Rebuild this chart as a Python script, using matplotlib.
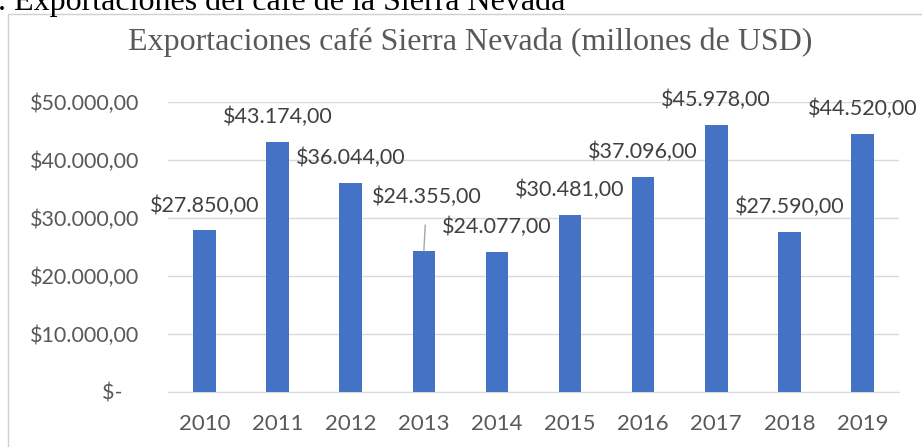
import matplotlib
matplotlib.use("Agg")
import matplotlib.pyplot as plt
from matplotlib.patches import Rectangle

years = ["2010", "2011", "2012", "2013", "2014", "2015", "2016", "2017", "2018", "2019"]
values = [27850, 43174, 36044, 24355, 24077, 30481, 37096, 45978, 27590, 44520]
yticks = [0, 10000, 20000, 30000, 40000, 50000]
ytick_labels = ["$-   ", "$10.000,00", "$20.000,00", "$30.000,00", "$40.000,00", "$50.000,00"]
title = "Exportaciones café Sierra Nevada (millones de USD)"
caption = ". Exportaciones del café de la Sierra Nevada"

def fmt(v):
    s = f"{v:,.2f}"
    s = s.replace(",", "X").replace(".", ",").replace("X", ".")
    return "$" + s

W, H = 922, 447
fig = plt.figure(figsize=(W / 100, H / 100), dpi=100)
fig.patch.set_facecolor("white")

# chart border (partially cropped)
fig.add_artist(Rectangle((8 / W, -0.1), 1.2, 1 - 14 / H + 0.1, transform=fig.transFigure,
                         fill=False, edgecolor="#D0D0D0", linewidth=1.0))

# caption cropped at top
fig.text(-2 / W, 1 - 10 / H, caption, family="Liberation Serif", fontsize=23,
         color="black", ha="left", va="baseline")

fig.text(470 / W, 1 - 42 / H, title, family="Liberation Serif", fontsize=23,
         color="#595959", ha="center", va="center")

FS = 15.5
ax = fig.add_axes([168 / W, 1 - 392 / H, 731 / W, 290 / H])
x = list(range(len(years)))
ax.bar(x, values, width=0.31, color="#4472C4", zorder=3)
ax.set_xlim(-0.5, len(years) - 0.5)
ax.set_ylim(0, 50000)
ax.set_yticks(yticks)
ax.set_yticklabels(ytick_labels)
ax.set_xticks(x)
ax.set_xticklabels(years)
ax.grid(axis="y", color="#D9D9D9", linewidth=1.0, zorder=0)
for s in ["top", "right", "left"]:
    ax.spines[s].set_visible(False)
ax.spines["bottom"].set_color("#D9D9D9")
ax.tick_params(axis="both", length=0, colors="#595959")
ax.tick_params(axis="y", pad=21, labelsize=15.5)
ax.tick_params(axis="x", pad=16, labelsize=16)
for lab in ax.get_xticklabels() + ax.get_yticklabels():
    lab.set_family("Lato")

for i, v in enumerate(values):
    if years[i] == "2013":
        ax.annotate(fmt(v), xy=(i, v), xytext=(i + 0.04, v + 54 * 50000 / 290),
                    ha="center", va="center", fontsize=FS, family="Lato", color="#404040",
                    arrowprops=dict(arrowstyle="-", color="#A6A6A6", lw=1,
                                    shrinkA=11, shrinkB=0), annotation_clip=False)
    else:
        ax.annotate(fmt(v), xy=(i, v), xytext=(0, 25), textcoords="offset pixels",
                    ha="center", va="center", fontsize=FS, family="Lato", color="#404040",
                    annotation_clip=False)

fig.savefig("out.png", dpi=100)
